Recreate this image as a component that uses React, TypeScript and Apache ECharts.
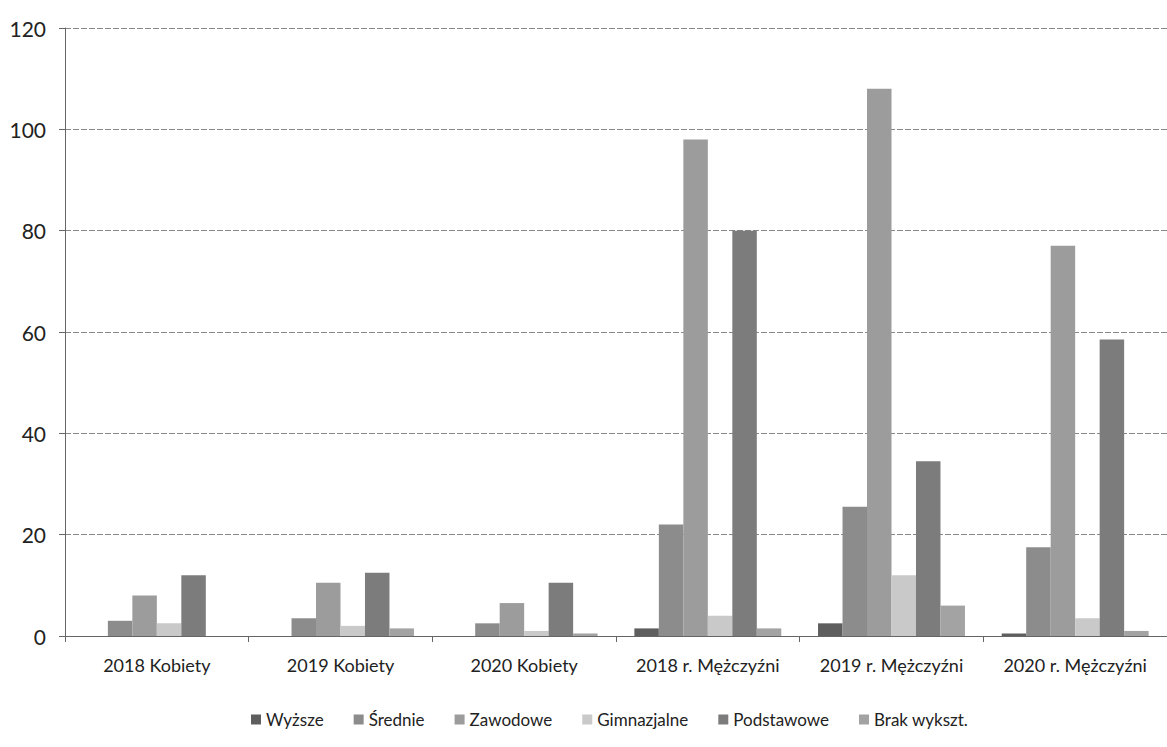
import React, { useEffect, useRef } from "react";
import * as echarts from "echarts";

const categories = [
  "2018 Kobiety",
  "2019 Kobiety",
  "2020 Kobiety",
  "2018 r. Mężczyźni",
  "2019 r. Mężczyźni",
  "2020 r. Mężczyźni",
];

const seriesNames = ["Wyższe", "Średnie", "Zawodowe", "Gimnazjalne", "Podstawowe", "Brak wykszt."];

const wyzsze = [0, 0, 0, 1.5, 2.5, 0.5];
const srednie = [3, 3.5, 2.5, 22, 25.5, 17.5];
const zawodowe = [8, 10.5, 6.5, 98, 108, 77];
const gimnazjalne = [2.5, 2, 1, 4, 12, 3.5];
const podstawowe = [12, 12.5, 10.5, 80, 34.5, 58.5];
const brak = [0, 1.5, 0.5, 1.5, 6, 1];

const seriesData = [wyzsze, srednie, zawodowe, gimnazjalne, podstawowe, brak];
const colors = ["#5e5e5e", "#8c8c8c", "#9c9c9c", "#c9c9c9", "#7c7c7c", "#a3a3a3"];

const FONT = "Lato, 'Open Sans', sans-serif";

export default function App() {
  const ref = useRef<HTMLDivElement>(null);
  useEffect(() => {
    if (!ref.current) return;
    const chart = echarts.init(ref.current, undefined, { renderer: "svg" });
    chart.setOption({
      animation: false,
      backgroundColor: "#ffffff",
      color: colors,
      legend: {
        bottom: 14,
        left: 246,
        itemWidth: 10,
        itemHeight: 10,
        itemGap: 30,
        icon: "rect",
        textStyle: { fontFamily: FONT, fontSize: 17, color: "#222" },
        data: seriesNames,
      },
      grid: { left: 65, top: 28, right: 0, bottom: 111 },
      xAxis: {
        type: "category",
        data: categories,
        axisLine: { lineStyle: { color: "#666", width: 1 } },
        axisTick: { show: true, alignWithLabel: false, length: 6, lineStyle: { color: "#666" } },
        axisLabel: { interval: 0, fontFamily: FONT, fontSize: 18, color: "#222", margin: 20 },
      },
      yAxis: {
        type: "value",
        min: 0,
        max: 120,
        interval: 20,
        axisLine: { show: true, lineStyle: { color: "#666", width: 1 } },
        axisTick: { show: true, length: 6, lineStyle: { color: "#666" } },
        axisLabel: { fontFamily: FONT, fontSize: 21, color: "#222", margin: 19 },
        splitLine: { lineStyle: { color: "#888", width: 1, type: [6, 2] } },
      },
      series: seriesNames.map((name, i) => ({
        name,
        type: "bar",
        data: seriesData[i],
        barGap: "0%",
        barCategoryGap: "20%",
        itemStyle: { color: colors[i] },
      })),
    });
    return () => chart.dispose();
  }, []);
  return (
    <div
      ref={ref}
      style={{ position: "absolute", left: 0, top: 0, width: 1167, height: 747 }}
    />
  );
}
